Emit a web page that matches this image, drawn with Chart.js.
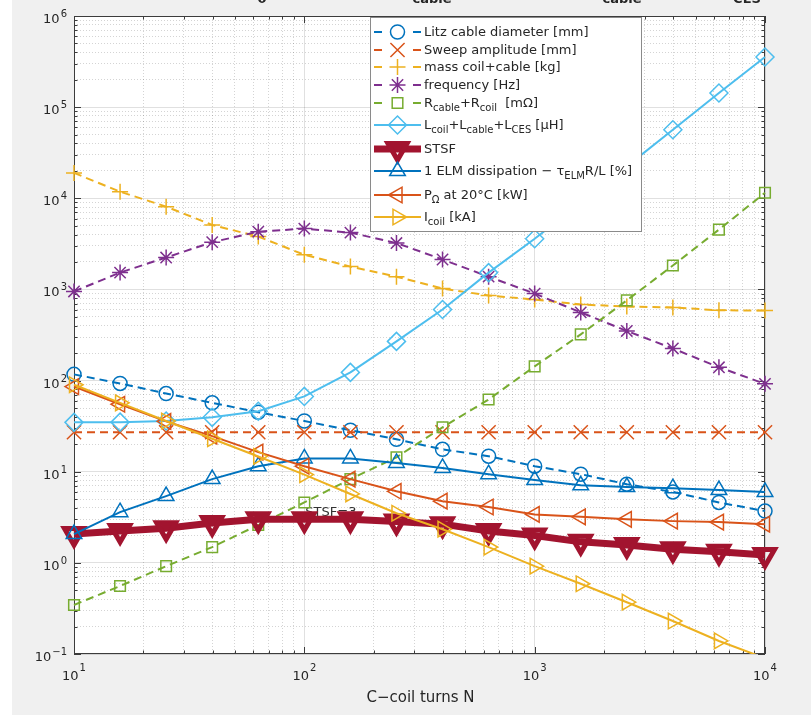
<!DOCTYPE html>
<html>
<head>
<meta charset="utf-8">
<script src="https://cdn.jsdelivr.net/npm/chart.js@4/dist/chart.umd.min.js"></script>
<style>
  html, body { margin: 0; padding: 0; background: #ffffff; }
  #wrap { position: relative; width: 811px; height: 715px; overflow: hidden; }
  #panel { position: absolute; left: 12px; top: 0; width: 799px; height: 715px; background: #f0f0f0; }
  #c { position: absolute; left: 0; top: 0; }
</style>
</head>
<body>
<div id="wrap">
  <div id="panel"></div>
  <canvas id="c" width="811" height="715"></canvas>
</div>
<script>
// Number of C-coil turns (x positions of the sweep)
const turnsN = [10, 15.85, 25.12, 39.81, 63.1, 100, 158.5, 251.2, 398.1, 631, 1000, 1585, 2512, 3981, 6310, 10000];

// Series values, one array per curve
const litzDiameter   = [117, 93, 72, 57, 45, 36, 28.5, 22.7, 17.6, 14.8, 11.5, 9.4, 7.3, 6.0, 4.6, 3.7];
const sweepAmplitude = [27.1, 27.1, 27.1, 27.1, 27.1, 27.1, 27.1, 27.1, 27.1, 27.1, 27.1, 27.1, 27.1, 27.1, 27.1, 27.1];
const massCoilCable  = [19000, 11800, 8100, 5100, 3800, 2400, 1780, 1380, 1023, 857, 775, 683, 650, 634, 590, 587];
const frequency      = [950, 1530, 2240, 3300, 4300, 4650, 4200, 3230, 2130, 1380, 900, 560, 350, 225, 140, 92];
const resistance     = [0.345, 0.557, 0.92, 1.49, 2.6, 4.6, 8.3, 14.4, 30.7, 62, 143, 321, 758, 1830, 4530, 11500];
const inductance     = [34.8, 35, 36, 39.5, 46, 67, 123, 269, 602, 1530, 3600, 8900, 22400, 56400, 143000, 355000];
const stsf           = [2.07, 2.24, 2.4, 2.73, 3.0, 3.0, 3.0, 2.85, 2.66, 2.24, 2.0, 1.7, 1.57, 1.41, 1.32, 1.22];
const elmDissipation = [2.07, 3.6, 5.4, 8.3, 11.5, 14, 14, 12.5, 11.0, 9.4, 8.1, 7.1, 6.8, 6.6, 6.3, 6.0];
const ohmicPower     = [86, 55, 35.7, 24.6, 16.4, 11.5, 8.3, 6.1, 4.75, 4.1, 3.4, 3.2, 3.0, 2.87, 2.8, 2.66];
const coilCurrent    = [90, 57, 36, 23, 14.7, 9.3, 5.7, 3.5, 2.34, 1.49, 0.92, 0.59, 0.37, 0.23, 0.139, 0.09];

// Legend labels (_{...} marks a subscript)
const seriesLabels = [
  'Litz cable diameter [mm]',
  'Sweep amplitude [mm]',
  'mass coil+cable [kg]',
  'frequency [Hz]',
  'R_{cable}+R_{coil}  [mΩ]',
  'L_{coil}+L_{cable}+L_{CES} [μH]',
  'STSF',
  '1 ELM dissipation − τ_{ELM}R/L [%]',
  'P_{Ω} at 20°C [kW]',
  'I_{coil} [kA]'
];
const seriesValues = [litzDiameter, sweepAmplitude, massCoilCable, frequency, resistance,
                      inductance, stsf, elmDissipation, ohmicPower, coilCurrent];

// Axis ticks and texts
const yDecades = [-1, 0, 1, 2, 3, 4, 5, 6];
const xDecades = [1, 2, 3, 4];
const yMin = 0.1, yMax = 1000000;
const xMin = 10, xMax = 10000;
const xTitle = 'C−coil turns N';
const annotationText = 'STSF=3';
const annotationAt = { x: 101, y: 3.75 };
const topLabels = [
  { text: '0', x: 262 },
  { text: 'cable', x: 432 },
  { text: 'cable', x: 622 },
  { text: 'CES', x: 747 }
];

// Line / marker styling per series
const seriesStyles = [
  { color: '#0072BD', dash: [8, 5], point: 'circle',   radius: 7,  rot: 0,   width: 2, pbw: 1.5 },
  { color: '#D95319', dash: [8, 5], point: 'crossRot', radius: 10, rot: 0,   width: 2, pbw: 1.5 },
  { color: '#EDB120', dash: [8, 5], point: 'cross',    radius: 8,  rot: 0,   width: 2, pbw: 1.5 },
  { color: '#7E2F8E', dash: [8, 5], point: 'star',     radius: 8,  rot: 0,   width: 2, pbw: 1.5 },
  { color: '#77AC30', dash: [8, 5], point: 'rect',     radius: 7.5,rot: 0,   width: 2, pbw: 1.5 },
  { color: '#4DBEEE', dash: [],     point: 'rectRot',  radius: 9,  rot: 0,   width: 2, pbw: 1.5 },
  { color: '#A2142F', dash: [],     point: 'triangle', radius: 11, rot: 180, width: 7, pbw: 5 },
  { color: '#0072BD', dash: [],     point: 'triangle', radius: 9,  rot: 0,   width: 2, pbw: 1.5 },
  { color: '#D95319', dash: [],     point: 'triangle', radius: 9,  rot: -90, width: 2, pbw: 1.5 },
  { color: '#EDB120', dash: [],     point: 'triangle', radius: 9,  rot: 90,  width: 2, pbw: 1.5 }
];

const FONT = '"DejaVu Sans", "Lucida Grande", sans-serif';
const TEXT_COLOR = '#262626';

function parseRich(s) {
  const out = [];
  const re = /_\{([^}]*)\}/g;
  let last = 0, m;
  while ((m = re.exec(s))) {
    if (m.index > last) out.push({ t: s.slice(last, m.index), sub: false });
    out.push({ t: m[1], sub: true });
    last = re.lastIndex;
  }
  if (last < s.length) out.push({ t: s.slice(last), sub: false });
  return out;
}

const isMajor = v => Math.abs(Math.log10(v) - Math.round(Math.log10(v))) < 1e-9;

function logTicks(minExp, maxExp) {
  const t = [];
  for (let e = minExp; e < maxExp; e++) {
    for (let k = 1; k <= 9; k++) t.push({ value: k * Math.pow(10, e) });
  }
  t.push({ value: Math.pow(10, maxExp) });
  return t;
}

const datasets = seriesValues.map((vals, i) => {
  const s = seriesStyles[i];
  return {
    label: seriesLabels[i].replace(/_\{([^}]*)\}/g, '$1'),
    data: turnsN.map((n, j) => ({ x: n, y: vals[j] })),
    borderColor: s.color,
    backgroundColor: 'rgba(0,0,0,0)',
    borderWidth: s.width,
    borderDash: s.dash,
    pointStyle: s.point,
    // points lying outside the axis limits are not marked
    pointRadius: c => (c.raw && c.raw.y < yMin) ? 0 : s.radius,
    pointRotation: s.rot,
    pointBorderWidth: s.pbw,
    pointBorderColor: s.color,
    pointBackgroundColor: 'rgba(0,0,0,0)',
    tension: 0,
    fill: false,
    order: seriesValues.length - i,
    clip: { left: 20, right: 20, top: 20, bottom: 0 }
  };
});

// White plot area, inward ticks, box, labels, annotation and legend
const figurePlugin = {
  id: 'figure',
  beforeDraw(chart) {
    const { ctx, chartArea: a } = chart;
    ctx.save();
    ctx.fillStyle = '#ffffff';
    ctx.fillRect(a.left, a.top, a.right - a.left, a.bottom - a.top);
    ctx.restore();
  },
  beforeDatasetsDraw(chart) {
    const { ctx, chartArea: a, scales } = chart;
    const xs = scales.x, ys = scales.y;
    ctx.save();
    // box
    ctx.strokeStyle = '#3c3c3c';
    ctx.lineWidth = 1;
    ctx.setLineDash([]);
    ctx.strokeRect(a.left + 0.5, a.top + 0.5, a.right - a.left - 1, a.bottom - a.top - 1);
    // inward ticks
    ctx.beginPath();
    xs.ticks.forEach(t => {
      const px = Math.round(xs.getPixelForValue(t.value)) + 0.5;
      const len = isMajor(t.value) ? 7 : 3.5;
      ctx.moveTo(px, a.bottom); ctx.lineTo(px, a.bottom - len);
      ctx.moveTo(px, a.top); ctx.lineTo(px, a.top + len);
    });
    ys.ticks.forEach(t => {
      const py = Math.round(ys.getPixelForValue(t.value)) + 0.5;
      const len = isMajor(t.value) ? 7 : 3.5;
      ctx.moveTo(a.left, py); ctx.lineTo(a.left + len, py);
      ctx.moveTo(a.right, py); ctx.lineTo(a.right - len, py);
    });
    ctx.stroke();

    // tick labels: 10 with raised exponent
    ctx.fillStyle = TEXT_COLOR;
    ctx.textBaseline = 'alphabetic';
    ctx.textAlign = 'left';
    const mainF = '13px ' + FONT, expF = '10px ' + FONT;
    yDecades.forEach(e => {
      const py = ys.getPixelForValue(Math.pow(10, e));
      const ex = String(e).replace('-', '−');
      ctx.font = mainF; const w1 = ctx.measureText('10').width;
      ctx.font = expF; const w2 = ctx.measureText(ex).width;
      const x0 = 67 - w1 - w2 - 1;
      ctx.font = mainF; ctx.fillText('10', x0, py + 7);
      ctx.font = expF; ctx.fillText(ex, x0 + w1 + 1, py + 1);
    });
    xDecades.forEach(e => {
      const px = xs.getPixelForValue(Math.pow(10, e));
      const ex = String(e);
      ctx.font = mainF; const w1 = ctx.measureText('10').width;
      ctx.font = expF; const w2 = ctx.measureText(ex).width;
      const x0 = px - (w1 + w2 + 1) / 2;
      ctx.font = mainF; ctx.fillText('10', x0, 680);
      ctx.font = expF; ctx.fillText(ex, x0 + w1 + 1, 671);
    });
    // axis title
    ctx.font = '15px ' + FONT;
    ctx.textAlign = 'center';
    ctx.fillText(xTitle, (a.left + a.right) / 2 + 1, 702);
    // labels cut off by the top edge of the figure
    ctx.font = 'bold 13px ' + FONT;
    topLabels.forEach(l => ctx.fillText(l.text, l.x, 3));
    // annotation under the curves
    ctx.font = '13px ' + FONT;
    ctx.textAlign = 'left';
    ctx.fillStyle = '#333333';
    ctx.fillText(annotationText, xs.getPixelForValue(annotationAt.x), ys.getPixelForValue(annotationAt.y) + 5);
    ctx.restore();
  },
  afterDraw(chart) {
    const { ctx } = chart;
    const box = { left: 370.5, top: 17.5, right: 641.5, bottom: 231.5 };
    const rowY = [32, 50, 67, 85, 103, 125, 149, 171, 195, 217];
    ctx.save();
    ctx.fillStyle = '#ffffff';
    ctx.fillRect(box.left, box.top, box.right - box.left, box.bottom - box.top);
    ctx.strokeStyle = '#8a8a8a';
    ctx.lineWidth = 1;
    ctx.setLineDash([]);
    ctx.strokeRect(box.left, box.top, box.right - box.left, box.bottom - box.top);
    seriesStyles.forEach((s, i) => {
      const y = rowY[i];
      ctx.strokeStyle = s.color;
      ctx.lineWidth = s.width;
      ctx.setLineDash([]);
      ctx.beginPath();
      if (s.dash.length) {
        ctx.moveTo(374, y); ctx.lineTo(382, y);
        ctx.moveTo(413, y); ctx.lineTo(421, y);
      } else {
        ctx.moveTo(374, y); ctx.lineTo(421, y);
      }
      ctx.stroke();
      ctx.fillStyle = 'rgba(0,0,0,0)';
      ctx.lineWidth = s.pbw;
      Chart.helpers.drawPoint(ctx, { pointStyle: s.point, rotation: s.rot, radius: s.radius, borderWidth: s.pbw }, 397.5, y);
      // label with subscripts
      let x = 424;
      ctx.fillStyle = TEXT_COLOR;
      ctx.textAlign = 'left';
      ctx.textBaseline = 'alphabetic';
      parseRich(seriesLabels[i]).forEach(seg => {
        ctx.font = (seg.sub ? '10px ' : '13px ') + FONT;
        ctx.fillText(seg.t, x, y + (seg.sub ? 8 : 4));
        x += ctx.measureText(seg.t).width;
      });
    });
    ctx.restore();
  }
};

new Chart(document.getElementById('c'), {
  type: 'line',
  data: { datasets },
  plugins: [figurePlugin],
  options: {
    responsive: false,
    animation: false,
    devicePixelRatio: 1,
    layout: { padding: { left: 74, top: 16, right: 46, bottom: 61 } },
    plugins: { legend: { display: false }, tooltip: { enabled: false } },
    scales: {
      x: {
        type: 'logarithmic',
        min: xMin, max: xMax,
        afterBuildTicks: scale => { scale.ticks = logTicks(1, 4); },
        ticks: { display: false },
        grid: {
          drawTicks: false,
          lineWidth: 1,
          color: c => isMajor(c.tick.value) ? 'rgba(0,0,0,0.12)' : 'rgba(0,0,0,0.17)'
        },
        border: { display: false, dash: c => (c.tick && !isMajor(c.tick.value)) ? [1, 2] : [] },
        title: { display: false }
      },
      y: {
        type: 'logarithmic',
        min: yMin, max: yMax,
        afterBuildTicks: scale => { scale.ticks = logTicks(-1, 6); },
        ticks: { display: false },
        grid: {
          drawTicks: false,
          lineWidth: 1,
          color: c => isMajor(c.tick.value) ? 'rgba(0,0,0,0.12)' : 'rgba(0,0,0,0.17)'
        },
        border: { display: false, dash: c => (c.tick && !isMajor(c.tick.value)) ? [1, 2] : [] },
        title: { display: false }
      }
    }
  }
});
</script>
</body>
</html>
